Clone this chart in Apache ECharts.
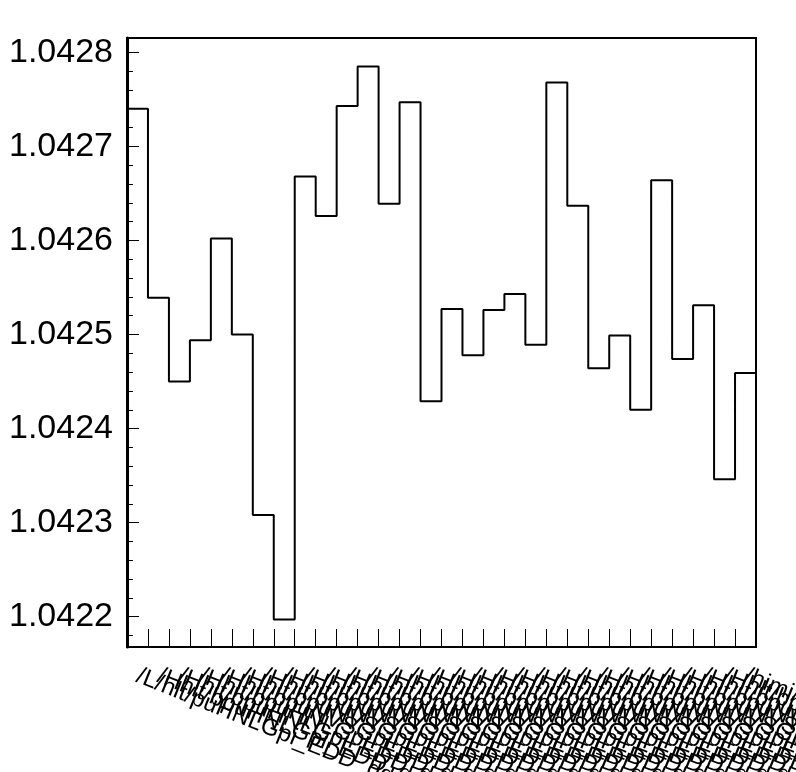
<!DOCTYPE html>
<html><head><meta charset="utf-8">
<script src="https://cdn.jsdelivr.net/npm/echarts@6/dist/echarts.min.js"></script>
<style>html,body{margin:0;padding:0;background:#fff}#c{width:796px;height:772px}</style>
</head><body><div id="c"></div>
<script>
const binLabels = [
  "/L/hlt/puHNLGpi_EDD_dd",
  "/Hhlt/bpuHNLGpi_EDD_dd", "/Hhlt/bpuHNLGpi_EDD_dd", "/Hhlt/bpuHNLGpi_EDD_dd",
  "/Hhlt/bpuNVSGpi_EDD_dd", "/Hhlt/bpuNVSGpi_EDD_dd", "/Hhlt/bpuNVSGpi_EDD_dd",
  "/Hhlt/bpuNVSGpi_EDD_dd", "/Hhlt/bpuNVSGpi_EDD_dd", "/Hhlt/bpuNVSGpi_EDD_dd",
  "/Hhlt/bpuNVSGpi_EDD_dd", "/Hhlt/bpuNVSGpi_EDD_dd", "/Hhlt/bpuNVSGpi_EDD_dd",
  "/Hhlt/bpuNVSGpi_EDD_dd", "/Hhlt/bpuNVSGpi_EDD_dd", "/Hhlt/bpuNVSGpi_EDD_dd",
  "/Hhlt/bpuNVSGpi_EDD_dd", "/Hhlt/bpuNVSGpi_EDD_dd", "/Hhlt/bpuNVSGpi_EDD_dd",
  "/Hhlt/bpuNVSGpi_EDD_dd", "/Hhlt/bpuNVSGpi_EDD_dd", "/Hhlt/bpuNVSGpi_EDD_dd",
  "/Hhlt/bpuNVSGpi_EDD_dd", "/Hhlt/bpuNVSGpi_EDD_dd", "/Hhlt/bpuNVSGpi_EDD_dd",
  "/Hhlt/bpuNVSGpi_EDD_dd", "/Hhlt/bpuNVSGpi_EDD_dd", "/Hhlt/bpuNVSGpi_EDD_dd",
  "/Hhlt/bpuNVSGpi_EDD_dd", "/himi/bpuNVSGpi_EDD_dd"
];
const binValues = [
  1.042740, 1.042539, 1.042450, 1.042494, 1.042602, 1.042500,
  1.042308, 1.042197, 1.042668, 1.042626, 1.042743, 1.042785,
  1.042639, 1.042747, 1.042429, 1.042527, 1.042478, 1.042526,
  1.042543, 1.042489, 1.042768, 1.042637, 1.042464, 1.042499,
  1.042420, 1.042664, 1.042474, 1.042531, 1.042346, 1.042459
];
const yMin = 1.0421678;
const yMax = 1.0428152;

const stepData = binValues.map((v, i) => [i, v]);
stepData.push([binValues.length, binValues[binValues.length - 1]]);

const font = "'Liberation Sans', Arial, Helvetica, sans-serif";
const chart = echarts.init(document.getElementById('c'), null, {renderer: 'canvas'});
chart.setOption({
  animation: false,
  backgroundColor: '#fff',
  grid: {left: 127, right: 40, top: 38, bottom: 125, show: true, containLabel: false,
         outerBoundsMode: 'none',
         borderColor: '#000', borderWidth: 2, backgroundColor: 'transparent'},
  xAxis: [
    {type: 'value', min: 0, max: binValues.length, show: false},
    {type: 'category', data: binLabels, boundaryGap: true, position: 'bottom',
     axisLine: {show: true, lineStyle: {color: '#000', width: 2}},
     axisTick: {show: true, inside: true, length: 18, interval: 0,
                lineStyle: {color: '#000', width: 1}},
     axisLabel: {interval: 0, rotate: -22, margin: 28, fontSize: 24,
                 color: '#000', fontFamily: font},
     splitLine: {show: false}}
  ],
  yAxis: {
    type: 'value', min: yMin, max: yMax, splitNumber: 6,
    axisLine: {show: true, lineStyle: {color: '#000', width: 3}},
    axisTick: {show: true, inside: true, length: 12, lineStyle: {color: '#000', width: 1}},
    minorTick: {show: true, splitNumber: 5, length: 6, lineStyle: {color: '#000', width: 1}},
    axisLabel: {showMinLabel: false, showMaxLabel: false, fontSize: 34, margin: 14,
                color: '#000', fontFamily: font, formatter: v => v.toFixed(4)},
    splitLine: {show: false}, minorSplitLine: {show: false}
  },
  series: [{
    type: 'line', xAxisIndex: 0, data: stepData, step: 'end', symbol: 'none',
    lineStyle: {color: '#000', width: 2}
  }]
});
</script>
</body></html>
